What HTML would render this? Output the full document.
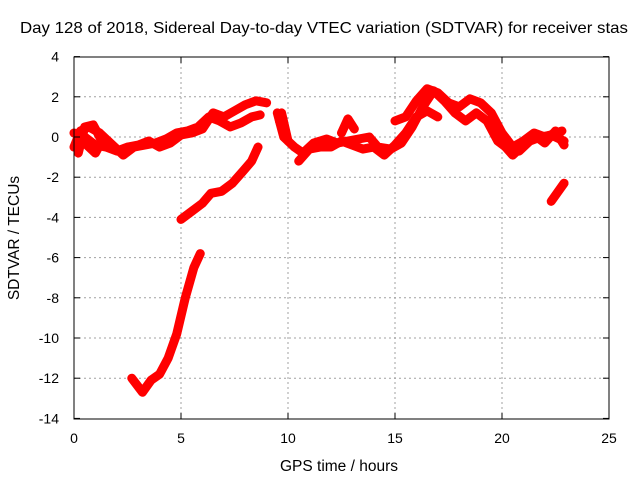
<!DOCTYPE html>
<html><head><meta charset="utf-8"><style>
body{margin:0;background:#fff}
svg{display:block;font-family:"Liberation Sans",sans-serif}
</style></head><body>
<svg id="c" width="640" height="480">
<text x="20" y="33" font-size="16" textLength="608" lengthAdjust="spacingAndGlyphs">Day 128 of 2018, Sidereal Day-to-day VTEC variation (SDTVAR) for receiver stas</text>
<text x="339" y="471" font-size="15.5" text-anchor="middle">GPS time / hours</text>
<text transform="translate(19,238) rotate(-90)" font-size="15.5" text-anchor="middle">SDTVAR / TECUs</text>
<g id="grid"></g><g id="marks"></g><g id="axes"></g>
</svg>
<script>
const xTicks=[0,5,10,15,20,25];
const yTicks=[4,2,0,-2,-4,-6,-8,-10,-12,-14];
const segA_t=[0,0.3,0.7,1.2,1.7,2.3,2.8,3.3,3.8,4.3,4.8,5.3,5.8,6.3,6.8,7.3,7.8,8.3,8.7];
const segA_v=[-0.5,0.3,0.5,0.2,-0.3,-0.9,-0.5,-0.4,-0.3,-0.1,0.2,0.3,0.5,1.0,0.8,0.5,0.7,1.0,1.1];
const segB_t=[0,0.5,1,1.5,2,2.5,3,3.5,4,4.5,5,5.5,6,6.5,7,7.5,8,8.5,9];
const segB_v=[0.2,0,-0.4,-0.5,-0.7,-0.5,-0.4,-0.2,-0.5,-0.3,0.1,0.2,0.4,1.2,1.0,1.3,1.6,1.8,1.7];
const segB2_t=[0.2,0.5,0.9,1.3,1.0,0.6,0.3];
const segB2_v=[-0.8,0.5,0.6,-0.2,-0.8,-0.4,0.2];
const segC_t=[2.7,3.2,3.6,4.0,4.4,4.8,5.2,5.6,5.9];
const segC_v=[-12,-12.7,-12.1,-11.8,-11,-9.8,-8,-6.5,-5.8];
const segD_t=[5,5.5,6,6.4,6.9,7.4,7.9,8.3,8.6];
const segD_v=[-4.1,-3.7,-3.3,-2.8,-2.7,-2.3,-1.7,-1.2,-0.5];
const segE_t=[22.3,22.9];
const segE_v=[-3.2,-2.3];
const segF_t=[9.5,9.8,10.3,10.7,11.2,11.8,12.3,12.8,13.3,13.8,14.2,14.8,15.3,15.8,16.3,16.8,17.3,17.8,18.3,18.8,19.3,19.8,20.3,20.8,21.3,21.8,22.3,22.9];
const segF_v=[1.2,0,-0.5,-0.8,-0.3,-0.1,-0.3,-0.2,-0.1,0,-0.5,-0.6,-0.3,0.5,1.5,2.3,1.8,1.2,0.8,1.2,0.8,-0.2,-0.6,-0.7,-0.2,0,0.1,-0.2];
const segG_t=[15,15.5,16,16.5,17,17.5,18,18.5,19,19.5,20,20.5,21,21.5,22,22.8];
const segG_v=[0.8,1.0,1.8,2.4,2.2,1.7,1.5,1.9,1.7,1.2,0.2,-0.5,-0.2,0.2,0,0.3];
const segH_t=[10.5,11,11.5,12,12.5,13,13.5,14,14.5,15,15.5,16,16.5,17];
const segH_v=[-1.2,-0.6,-0.5,-0.5,-0.2,-0.4,-0.6,-0.5,-0.9,-0.4,0.2,1.0,1.3,1.0];
const segI_t=[12.5,12.8,13.1];
const segI_v=[0.2,0.9,0.4];
const segJ_t=[9.6,9.8,10.0,9.7];
const segJ_v=[0.8,0.2,-0.2,1.2];
const segK_t=[19.5,20,20.5,21,21.5,22,22.5,22.9];
const segK_v=[0.6,-0.3,-0.9,-0.4,0.1,-0.3,0.3,-0.4];
const series=[[segA_t,segA_v],[segB_t,segB_v],[segB2_t,segB2_v],[segC_t,segC_v],[segD_t,segD_v],[segE_t,segE_v],[segF_t,segF_v],[segG_t,segG_v],[segH_t,segH_v],[segI_t,segI_v],[segJ_t,segJ_v],[segK_t,segK_v]];
const X=t=>74+t*(535/25);
const Y=v=>137-v*20.1;
const NS="http://www.w3.org/2000/svg";
const grid=document.getElementById('grid'),marks=document.getElementById('marks'),axes=document.getElementById('axes');
function mk(tag,attrs,parent){const e=document.createElementNS(NS,tag);for(const k in attrs)e.setAttribute(k,attrs[k]);parent.appendChild(e);return e;}
xTicks.forEach(t=>{
 if(t>0&&t<25){const g=mk('line',{x1:X(t),x2:X(t),y1:57,y2:419,stroke:'#a0a0a0','stroke-dasharray':'2,3'},grid);
 
 }
 const l=mk('text',{x:X(t),y:443,'font-size':14,'text-anchor':'middle'},axes);l.textContent=t;
 
 
 mk('line',{x1:X(t),x2:X(t),y1:419,y2:413,stroke:'#000'},axes);
 mk('line',{x1:X(t),x2:X(t),y1:57,y2:63,stroke:'#000'},axes);
});
yTicks.forEach(v=>{
 if(v<4&&v>-14){const g=mk('line',{x1:74,x2:609,y1:Y(v),y2:Y(v),stroke:'#a0a0a0','stroke-dasharray':'2,3'},grid);
 
 }
 const l=mk('text',{x:59,y:Y(v)+5,'font-size':14,'text-anchor':'end'},axes);l.textContent=v;
 
 
 mk('line',{x1:74,x2:80,y1:Y(v),y2:Y(v),stroke:'#000'},axes);
 mk('line',{x1:603,x2:609,y1:Y(v),y2:Y(v),stroke:'#000'},axes);
});
const fr=mk('rect',{x:74,y:57,width:535,height:362,fill:'none',stroke:'#000'},axes);


series.forEach(([ts,vs])=>{
 const p=mk('polyline',{points:ts.map((t,i)=>X(t)+','+Y(vs[i])).join(' '),fill:'none',stroke:'#ff0000','stroke-width':9,'stroke-linejoin':'round','stroke-linecap':'round'},marks);
 
 
});
</script>
</body></html>
